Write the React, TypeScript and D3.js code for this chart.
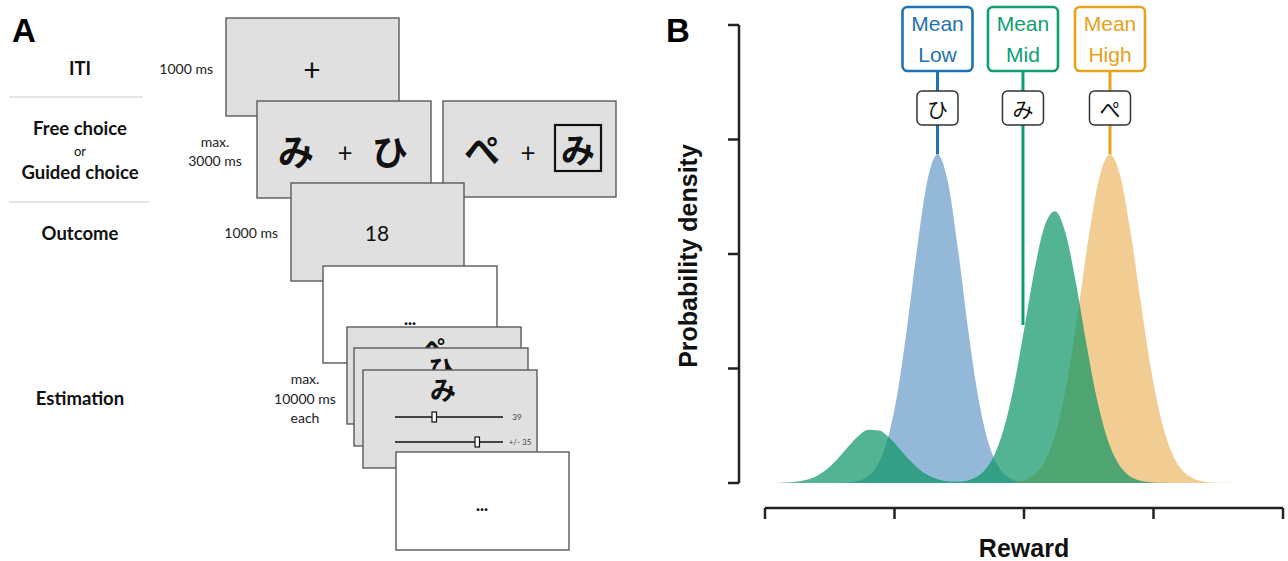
import React from "react";
import * as d3 from "d3";

// ---------- Panel B data (reward units 0-100, density in arbitrary units) ----------
const rewardTicks = [0, 25, 50, 75, 100];
const densityTicks = [0, 1, 2, 3, 4];

const lowX = [13.3, 15.3, 17.3, 19.3, 21.3, 23.3, 25.3, 27.3, 29.3, 31.3, 33.3, 35.3, 37.3, 39.3, 41.3, 43.3, 45.3, 47.3, 49.3, 51.3, 53.3];
const lowY = [0.0005, 0.0025, 0.011, 0.041, 0.126, 0.328, 0.716, 1.314, 2.028, 2.632, 2.87, 2.632, 2.028, 1.314, 0.716, 0.328, 0.126, 0.041, 0.011, 0.0025, 0.0005];

const highX = [44.6, 46.6, 48.6, 50.6, 52.6, 54.6, 56.6, 58.6, 60.6, 62.6, 64.6, 66.6, 68.6, 70.6, 72.6, 74.6, 76.6, 78.6, 80.6, 82.6, 84.6, 86.6, 88.6, 90.6];
const highY = [0.001, 0.003, 0.011, 0.036, 0.1, 0.243, 0.517, 0.958, 1.548, 2.182, 2.68, 2.87, 2.68, 2.182, 1.56, 0.975, 0.535, 0.258, 0.11, 0.042, 0.014, 0.004, 0.0012, 0.0003];

const midX = [0, 2, 4, 6, 8, 10, 12, 14, 16, 18, 20, 22, 24, 26, 28, 30, 32, 34, 36, 38, 40, 42, 44, 46, 48, 50, 52, 54, 56, 58, 60, 62, 64, 66, 68, 70, 72, 74, 76, 78];
const midY = [0.0003, 0.001, 0.004, 0.011, 0.028, 0.062, 0.123, 0.21, 0.314, 0.409, 0.464, 0.459, 0.396, 0.298, 0.196, 0.112, 0.056, 0.025, 0.012, 0.013, 0.034, 0.091, 0.218, 0.458, 0.837, 1.334, 1.854, 2.247, 2.373, 2.186, 1.755, 1.229, 0.75, 0.399, 0.185, 0.075, 0.026, 0.008, 0.002, 0.001];

const meanNames = ["Low", "Mid", "High"];
const meanValues = [33.3, 49.8, 66.6];
const meanLineEnds = [2.87, 1.38, 2.87];
const meanKana = ["ひ", "み", "ぺ"];
const meanColors = ["#1f72b4", "#0f9e74", "#e8a21c"];

// ---------- Panel A texts ----------
const stageLabels = ["ITI", "Free choice", "or", "Guided choice", "Outcome", "Estimation"];
const durationLabels = ["1000 ms", "max.", "3000 ms", "1000 ms", "max.", "10000 ms", "each"];
const outcomeValue = "18";
const sliderValues = ["39", "+/- 35"];

const W = 1288;
const H = 561;

const fontA = "Lato, 'Open Sans', sans-serif";
const fontB = "'Liberation Sans', Arial, Helvetica, sans-serif";
const fontJP = "'Noto Sans CJK JP', 'Noto Sans CJK SC', sans-serif";

const GRAY = "#e0e0e0";
const CARD_STROKE = "#5a5a5a";

function Card({ x, y, w, h, fill = GRAY }: { x: number; y: number; w: number; h: number; fill?: string }) {
  return <rect x={x} y={y} width={w} height={h} fill={fill} stroke={CARD_STROKE} strokeWidth={1.4} />;
}

function Kana({ x, y, size, weight = 400, children }: { x: number; y: number; size: number; weight?: number; children: string }) {
  return (
    <text x={x} y={y} fontFamily={fontJP} fontSize={size} fontWeight={weight} textAnchor="middle" dominantBaseline="central" fill="#111">
      {children}
    </text>
  );
}

function PanelA() {
  const labelProps = { fontFamily: fontA, fontWeight: 700, fontSize: 18.5, textAnchor: "middle" as const, dominantBaseline: "central" as const, fill: "#111" };
  const durProps = { fontFamily: fontA, fontSize: 14, dominantBaseline: "central" as const, fill: "#222" };
  return (
    <g>
      <defs>
        <clipPath id="clipPe">
          <rect x={347} y={327} width={174} height={21} />
        </clipPath>
        <clipPath id="clipHi">
          <rect x={354} y={348} width={174} height={22} />
        </clipPath>
      </defs>
      <text x={12} y={42} fontFamily={fontB} fontWeight={700} fontSize={33} fill="#000">A</text>
      {/* stage labels */}
      <text x={80} y={68} {...labelProps}>{stageLabels[0]}</text>
      <line x1={9} x2={143} y1={97} y2={97} stroke="#dcdcdc" strokeWidth={1.5} />
      <text x={80} y={128} {...labelProps}>{stageLabels[1]}</text>
      <text x={80} y={151} {...labelProps} fontWeight={400} fontSize={13}>{stageLabels[2]}</text>
      <text x={80} y={172} {...labelProps}>{stageLabels[3]}</text>
      <line x1={9} x2={150} y1={202} y2={202} stroke="#dcdcdc" strokeWidth={1.5} />
      <text x={80} y={233} {...labelProps}>{stageLabels[4]}</text>
      <text x={80} y={398} {...labelProps}>{stageLabels[5]}</text>

      {/* durations */}
      <text x={213} y={68} {...durProps} textAnchor="end">{durationLabels[0]}</text>
      <text x={215} y={141} {...durProps} textAnchor="middle">{durationLabels[1]}</text>
      <text x={215} y={160} {...durProps} textAnchor="middle">{durationLabels[2]}</text>
      <text x={278} y={232} {...durProps} textAnchor="end">{durationLabels[3]}</text>
      <text x={305} y={378} {...durProps} textAnchor="middle">{durationLabels[4]}</text>
      <text x={305} y={398} {...durProps} textAnchor="middle">{durationLabels[5]}</text>
      <text x={305} y={417} {...durProps} textAnchor="middle">{durationLabels[6]}</text>

      {/* ITI */}
      <Card x={226} y={18} w={173} h={98} />
      <text x={312} y={69} fontFamily={fontA} fontSize={30} textAnchor="middle" dominantBaseline="central" fill="#111">+</text>

      {/* free choice */}
      <Card x={257} y={101} w={174} h={97} />
      <Kana x={296} y={150} size={36} weight={700}>み</Kana>
      <text x={345} y={152} fontFamily={fontA} fontSize={26} textAnchor="middle" dominantBaseline="central" fill="#111">+</text>
      <Kana x={390} y={150} size={36} weight={700}>ひ</Kana>

      {/* guided choice */}
      <Card x={443} y={101} w={173} h={96} />
      <Kana x={482} y={148} size={36} weight={700}>ぺ</Kana>
      <text x={528} y={152} fontFamily={fontA} fontSize={26} textAnchor="middle" dominantBaseline="central" fill="#111">+</text>
      <rect x={555} y={125} width={46} height={46} fill="none" stroke="#111" strokeWidth={2.2} />
      <Kana x={578} y={148} size={34} weight={700}>み</Kana>

      {/* outcome */}
      <Card x={291} y={183} w={173} h={98} />
      <text x={377} y={232} fontFamily={fontA} fontSize={21} textAnchor="middle" dominantBaseline="central" fill="#111">{outcomeValue}</text>

      {/* ... */}
      <Card x={323} y={266} w={174} h={97} fill="#fff" />
      <text x={410} y={318} fontFamily={fontA} fontWeight={900} fontSize={17} textAnchor="middle" dominantBaseline="central" fill="#111">...</text>

      {/* estimation stack */}
      <Card x={347} y={327} w={174} h={97} />
      <g clipPath="url(#clipPe)">
        <Kana x={434} y={346} size={25} weight={700}>ぺ</Kana>
      </g>
      <Card x={354} y={348} w={174} h={98} />
      <g clipPath="url(#clipHi)">
        <Kana x={441} y={367} size={25} weight={700}>ひ</Kana>
      </g>
      <Card x={363} y={370} w={174} h={98} />
      <Kana x={443} y={388} size={26} weight={700}>み</Kana>
      <line x1={395} x2={503} y1={417} y2={417} stroke="#111" strokeWidth={1.3} />
      <rect x={432} y={412} width={4.5} height={10} fill="#fff" stroke="#111" strokeWidth={1.2} />
      <text x={517} y={417} fontFamily={fontA} fontSize={8} textAnchor="middle" dominantBaseline="central" fill="#444">{sliderValues[0]}</text>
      <line x1={395} x2={503} y1={442} y2={442} stroke="#111" strokeWidth={1.3} />
      <rect x={475} y={437} width={4.5} height={10} fill="#fff" stroke="#111" strokeWidth={1.2} />
      <text x={520} y={442} fontFamily={fontA} fontSize={8} textAnchor="middle" dominantBaseline="central" fill="#444">{sliderValues[1]}</text>

      <Card x={396} y={452} w={173} h={98} fill="#fff" />
      <text x={482} y={504} fontFamily={fontA} fontWeight={900} fontSize={17} textAnchor="middle" dominantBaseline="central" fill="#111">...</text>
    </g>
  );
}

function PanelB() {
  const x = d3.scaleLinear().domain([0, 100]).range([765, 1283]);
  const y = d3.scaleLinear().domain([0, 4]).range([483, 25]);
  const area = d3
    .area<[number, number]>()
    .x((d) => x(d[0]))
    .y0(y(0))
    .y1((d) => y(d[1]))
    .curve(d3.curveMonotoneX);
  const low = lowX.map((v, i) => [v, lowY[i]] as [number, number]);
  const high = highX.map((v, i) => [v, highY[i]] as [number, number]);
  const mid = midX.map((v, i) => [v, midY[i]] as [number, number]);

  const axisX = 739;
  const xAxisY = 508;
  const boxW = 70;
  const boxTop = 7;
  const boxBottom = 71;

  return (
    <g>
      <text x={666} y={42} fontFamily={fontB} fontWeight={700} fontSize={33} fill="#000">B</text>

      {/* densities */}
      <path d={area(low) || ""} fill="#94b8d8" />
      <path d={area(high) || ""} fill="#f1cd93" />
      <path d={area(mid) || ""} fill="rgb(8,148,100)" fillOpacity={0.7} />

      {/* y axis */}
      <line x1={axisX} x2={axisX} y1={y(4)} y2={y(0)} stroke="#222" strokeWidth={2.5} />
      {densityTicks.map((t) => (
        <line key={t} x1={axisX - 11} x2={axisX} y1={y(t)} y2={y(t)} stroke="#222" strokeWidth={2.5} />
      ))}
      <text
        transform={`translate(697,256) rotate(-90)`}
        fontFamily={fontB}
        fontWeight={700}
        fontSize={25}
        textAnchor="middle"
        fill="#111"
      >
        Probability density
      </text>

      {/* x axis */}
      <line x1={x(0)} x2={x(100)} y1={xAxisY} y2={xAxisY} stroke="#222" strokeWidth={2.5} />
      {rewardTicks.map((t) => (
        <line key={t} x1={x(t)} x2={x(t)} y1={xAxisY} y2={xAxisY + 11} stroke="#222" strokeWidth={2.5} />
      ))}
      <text x={1024} y={557} fontFamily={fontB} fontWeight={700} fontSize={25} textAnchor="middle" fill="#111">
        Reward
      </text>

      {/* mean markers */}
      {meanValues.map((m, i) => {
        const cx = x(m);
        const col = meanColors[i];
        return (
          <g key={meanNames[i]}>
            <line x1={cx} x2={cx} y1={boxBottom} y2={y(meanLineEnds[i])} stroke={col} strokeWidth={3} />
            <rect x={cx - boxW / 2} y={boxTop} width={boxW} height={boxBottom - boxTop} rx={5} fill="#fff" stroke={col} strokeWidth={2.6} />
            <text x={cx} y={23} fontFamily={fontB} fontSize={21} textAnchor="middle" dominantBaseline="central" fill={col}>Mean</text>
            <text x={cx} y={54} fontFamily={fontB} fontSize={21} textAnchor="middle" dominantBaseline="central" fill={col}>{meanNames[i]}</text>
            <rect x={cx - 20.5} y={91} width={41} height={34} rx={5} fill="#fff" stroke="#333" strokeWidth={1.5} />
            <Kana x={cx} y={107.5} size={21}>{meanKana[i]}</Kana>
          </g>
        );
      })}
    </g>
  );
}

export default function App() {
  return (
    <svg
      width={W}
      height={H}
      viewBox={`0 0 ${W} ${H}`}
      style={{ position: "fixed", left: 0, top: 0, display: "block", background: "#fff" }}
    >
      <rect width={W} height={H} fill="#fff" />
      <PanelA />
      <PanelB />
    </svg>
  );
}
